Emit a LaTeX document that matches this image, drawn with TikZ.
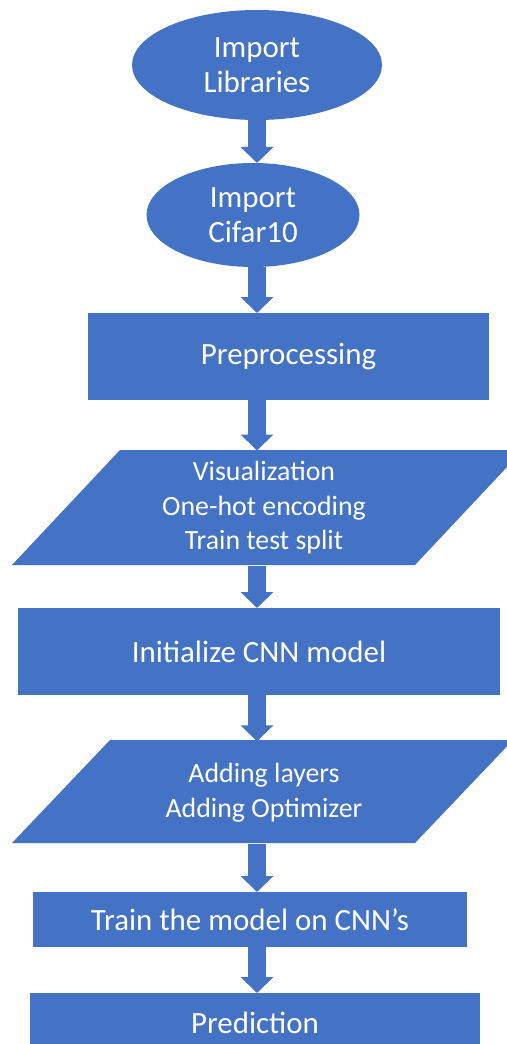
\documentclass[tikz,border=0pt]{standalone}
\usepackage{fontspec}
\setmainfont{Carlito}
\usetikzlibrary{shapes.geometric,arrows.meta}
\begin{document}
\begin{tikzpicture}[
  stepbox/.style={rectangle, fill=flowblue, text=white, outer sep=0pt, inner sep=0pt, font=\fontsize{22}{26}\selectfont},
  startoval/.style={ellipse, fill=flowblue, text=white, outer sep=0pt, inner sep=0pt, align=center, font=\fontsize{22}{25}\selectfont},
  iotext/.style={rectangle, text=white, outer sep=0pt, inner sep=0pt, align=center, minimum width=10cm, font=\fontsize{19.8}{24.5}\selectfont},
  flowarrow/.style={draw=flowblue, line width=0.45cm, -{Triangle[width=0.8cm,length=0.4cm]}}
]
\definecolor{flowblue}{RGB}{68,114,196}
\clip (0,0) rectangle (12.675,-26.1);
\fill[white] (0,0) rectangle (12.675,-26.1);
\coordinate (axis) at (6.425,0);
\fill[flowblue] (0.3,-14.125) -- (10.375,-14.125) -- (13.075,-11.25) -- (3.0,-11.25) -- cycle;
\fill[flowblue] (0.3,-21.075) -- (10.375,-21.075) -- (12.825,-18.5) -- (2.75,-18.5) -- cycle;
\node[startoval, minimum width=6.25cm, minimum height=2.75cm] (libs) at (6.425,-1.625) {Import\\Libraries};
\node[startoval, minimum width=5.325cm, minimum height=2.6cm] (cifar) at (6.325,-5.375) {Import\\Cifar10};
\node[stepbox, minimum width=10.025cm, minimum height=2.175cm] (prep) at (7.2125,-8.9125) {Preprocessing};
\node[iotext, minimum height=2.875cm] (explore) at (6.6,-12.7) {Visualization\\One-hot encoding\\Train test split};
\node[stepbox, minimum width=12.05cm, minimum height=2.175cm] (init) at (6.475,-16.2875) {Initialize CNN model};
\node[iotext, minimum height=2.575cm] (layers) at (6.6,-19.82) {Adding layers\\Adding Optimizer};
\node[stepbox, minimum width=10.85cm, minimum height=1.375cm] (train) at (6.25,-22.9875) {Train the model on CNN’s};
\node[stepbox, minimum width=11.25cm, minimum height=1.5cm] (pred) at (6.375,-25.575) {Prediction};
\draw[flowarrow] (libs.south -| axis) -- (cifar.north -| axis);
\draw[flowarrow] (cifar.south -| axis) -- (prep.north -| axis);
\draw[flowarrow] (prep.south -| axis) -- (explore.north -| axis);
\draw[flowarrow] (explore.south -| axis) -- (init.north -| axis);
\draw[flowarrow] (init.south -| axis) -- (layers.north -| axis);
\draw[flowarrow] (layers.south -| axis) -- (train.north -| axis);
\draw[flowarrow] (train.south -| axis) -- (pred.north -| axis);
\end{tikzpicture}
\end{document}
